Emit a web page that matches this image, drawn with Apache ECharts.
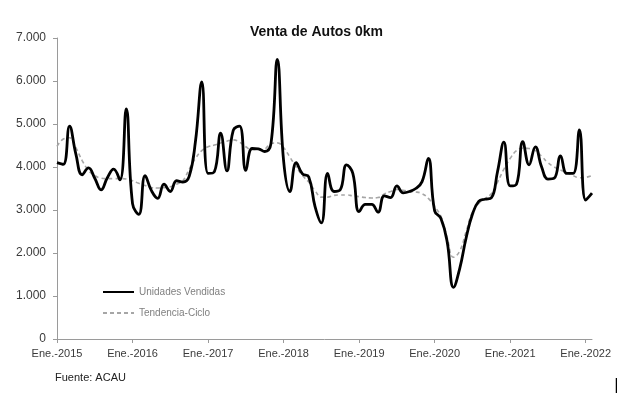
<!DOCTYPE html>
<html>
<head>
<meta charset="utf-8">
<script src="https://cdn.jsdelivr.net/npm/echarts@6/dist/echarts.min.js"></script>
<style>
html,body{margin:0;padding:0;background:#fff;}
#chart{width:617px;height:393px;}
</style>
</head>
<body>
<div id="chart"></div>
<script>
var monthNames = ["Ene.","Feb.","Mar.","Abr.","May.","Jun.","Jul.","Ago.","Sep.","Oct.","Nov.","Dic."];
var years = [2015,2016,2017,2018,2019,2020,2021,2022];
var monthCount = 86; // Ene.-2015 .. Feb.-2022

var unidadesVendidas = [
  4100,4060,4950,4300,3820,3980,3740,3470,3750,3950,3700,5350,
  3150,2900,3800,3450,3270,3600,3430,3680,3650,3780,4600,5980,
  3850,3890,4790,3910,4850,4950,3920,4430,4420,4360,4550,6500,
  4150,3430,4100,3840,3770,3080,2700,3850,3430,3470,4050,3850,
  2960,3130,3130,2950,3330,3290,3560,3400,3430,3500,3660,4200,
  2980,2800,2250,1200,1650,2350,2900,3200,3250,3280,3900,4580,
  3560,3600,4590,4050,4470,4000,3720,3740,4260,3850,3850,4860,
  3230,3390
];

var tendenciaCiclo = [
  4480,4650,4680,4450,4150,3920,3800,3740,3730,3730,3730,3720,
  3680,3620,3570,3520,3510,3520,3540,3600,3680,3950,4200,4380,
  4470,4510,4560,4600,4630,4580,4470,4400,4400,4420,4550,4560,
  4450,4230,4000,3800,3650,3450,3300,3300,3340,3350,3350,3330,
  3310,3290,3280,3290,3370,3430,3480,3460,3430,3420,3380,3270,
  3080,2850,2350,1900,2050,2500,2950,3150,3270,3380,3650,3950,
  4200,4380,4440,4430,4380,4250,4100,4000,3930,3870,3800,3750,
  3760,3800
];

var yTicks = [0,1000,2000,3000,4000,5000,6000,7000];

var categories = [];
for (var i = 0; i < monthCount; i++) {
  categories.push(monthNames[i % 12] + "-" + years[Math.floor(i / 12)]);
}

var FONT = "Liberation Sans";
var chart = echarts.init(document.getElementById('chart'), null, {renderer: 'canvas'});
chart.setOption({
  animation: false,
  backgroundColor: '#ffffff',
  title: {
    text: 'Venta de Autos 0km',
    left: 245, top: 20,
    textStyle: {fontFamily: FONT, fontSize: 14, fontWeight: 'bold', color: '#111'}
  },
  legend: {
    orient: 'vertical',
    left: 97, top: 282,
    itemWidth: 31, itemHeight: 10, itemGap: 11,
    itemStyle: {opacity: 0},
    textStyle: {fontFamily: FONT, fontSize: 10, color: '#808080'},
    data: ['Unidades Vendidas', 'Tendencia-Ciclo']
  },
  grid: {left: 57, right: 25, top: 38, bottom: 54, containLabel: false},
  xAxis: {
    type: 'category',
    data: categories,
    boundaryGap: false,
    axisLine: {lineStyle: {color: '#9a9a9a', width: 1}},
    axisTick: {show: true, interval: 11, length: 4, lineStyle: {color: '#9a9a9a'}},
    axisLabel: {
      interval: 11, margin: 9,
      fontFamily: FONT, fontSize: 11, color: '#3a3a3a',
      formatter: function (v) { return v.replace('-', '.-').replace('..', '.'); }
    },
    splitLine: {show: false}
  },
  yAxis: {
    type: 'value',
    min: yTicks[0], max: yTicks[yTicks.length - 1], interval: 1000,
    axisLine: {show: true, lineStyle: {color: '#9a9a9a', width: 1}},
    axisTick: {show: true, length: 4, lineStyle: {color: '#9a9a9a'}},
    axisLabel: {
      margin: 11, fontFamily: FONT, fontSize: 12, color: '#3a3a3a',
      formatter: function (v) { return v === 0 ? '0' : (v / 1000).toFixed(0) + '.000'; }
    },
    splitLine: {show: false}
  },
  series: [
    {
      name: 'Unidades Vendidas',
      type: 'line',
      data: unidadesVendidas,
      smooth: 0.45,
      symbol: 'none',
      lineStyle: {color: '#000000', width: 2.8},
      itemStyle: {color: '#000000'},
      z: 3
    },
    {
      name: 'Tendencia-Ciclo',
      type: 'line',
      data: tendenciaCiclo,
      smooth: 0.45,
      symbol: 'none',
      lineStyle: {color: '#a6a6a6', width: 1.6, type: [4, 3]},
      itemStyle: {color: '#a6a6a6'},
      z: 2
    }
  ],
  graphic: [
    {
      type: 'text', left: 55, top: 372,
      style: {text: 'Fuente: ACAU', font: '11px "' + FONT + '"', fill: '#222'}
    },
    {
      type: 'line', shape: {x1: 616.5, y1: 378, x2: 616.5, y2: 393},
      style: {stroke: '#000', lineWidth: 1.5}
    }
  ]
});
</script>
</body>
</html>
